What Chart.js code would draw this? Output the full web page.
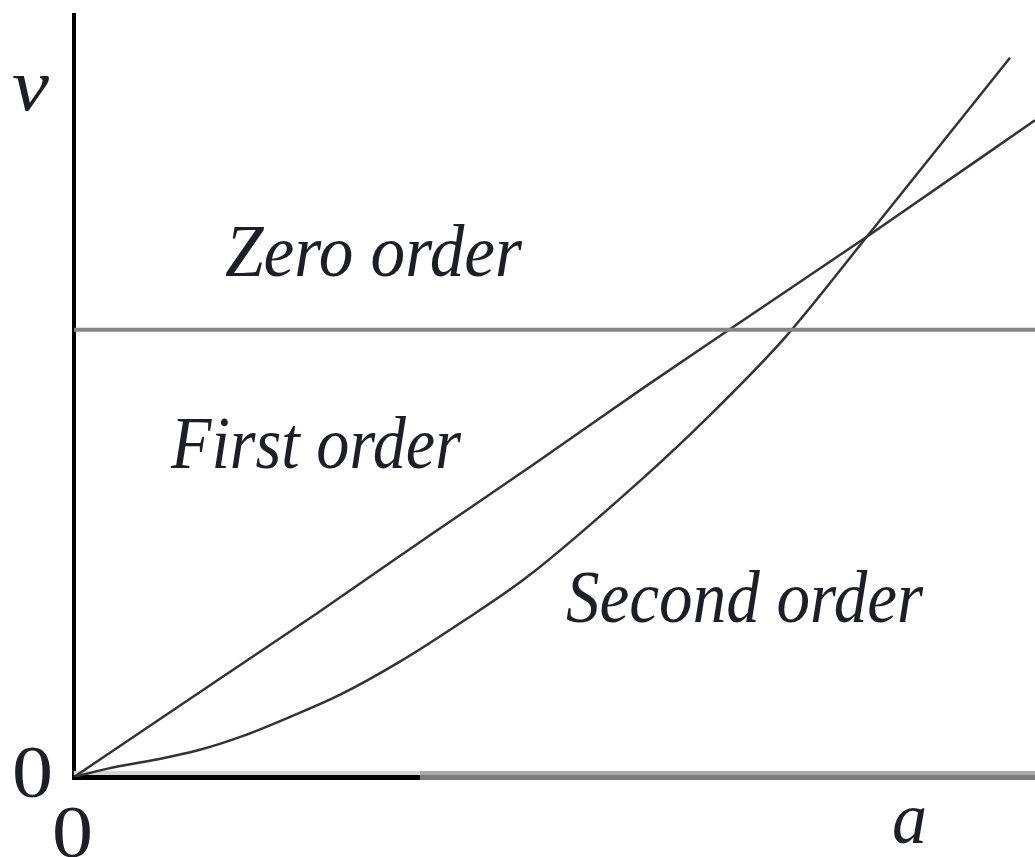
<!DOCTYPE html>
<html>
<head>
<meta charset="utf-8">
<script src="https://cdn.jsdelivr.net/npm/chart.js@4"></script>
<style>
  html, body { margin: 0; padding: 0; background: #fff; }
  #wrap { width: 1035px; height: 857px; }
</style>
</head>
<body>
<div id="wrap"><canvas id="c" width="1035" height="857"></canvas></div>
<script>
// ---- data (a = substrate, v = rate) ----
const zeroOrderA   = [0, 10];
const zeroOrderV   = [5.87, 5.87];
const firstOrderA  = [0, 1.47, 2.53, 3.70, 4.77, 5.94, 6.77, 8.25, 10];
const firstOrderV  = [0, 1.25, 2.15, 3.17, 4.09, 5.12, 5.83, 7.09, 8.62];
const secondOrderA = [0, 0.35, 0.86, 1.29, 1.76, 2.25, 2.77, 3.40, 4.02, 4.71, 5.91, 6.57, 7.40, 8.25, 9.74];
const secondOrderV = [0, 0.11, 0.23, 0.35, 0.54, 0.79, 1.08, 1.52, 2.02, 2.62, 3.91, 4.69, 5.77, 7.09, 9.44];
const curveLabels  = ['Zero order', 'First order', 'Second order'];
const axisLabels   = ['v', 'a'];
const originLabel  = '0';

const toPts = (xs, ys) => xs.map((x, i) => ({ x: x, y: ys[i] }));

// text placement (in data units: left edge, baseline) and target widths in px
const textLayout = [
  { text: curveLabels[0], a: 1.571, v: 6.575, w: 297, italic: true },
  { text: curveLabels[1], a: 1.009, v: 4.055, w: 290, italic: true },
  { text: curveLabels[2], a: 5.120, v: 2.034, w: 357, italic: true },
  { text: axisLabels[0], a: -0.645, v: 8.753, w: 37, italic: true },
  { text: axisLabels[1], a: 8.512, v: -0.866, w: 35, italic: true },
  { text: originLabel, a: -0.645, v: -0.262, w: 41, italic: false },
  { text: originLabel, a: -0.229, v: -1.050, w: 41, italic: false }
];

const decorPlugin = {
  id: 'decor',
  beforeDatasetsDraw(chart) {
    const ctx = chart.ctx, xs = chart.scales.x, ys = chart.scales.y;
    const y0 = ys.getPixelForValue(0);
    ctx.save();
    // x axis: black near origin, grey further out (as in the reference)
    ctx.lineCap = 'butt';
    ctx.lineWidth = 5;
    ctx.strokeStyle = '#000';
    ctx.beginPath();
    ctx.moveTo(xs.getPixelForValue(0) - 2, y0 + 0.5);
    ctx.lineTo(xs.getPixelForValue(3.6), y0 + 0.5);
    ctx.stroke();
    ctx.strokeStyle = '#7a7a7a';
    ctx.beginPath();
    ctx.moveTo(xs.getPixelForValue(3.6), y0 + 0.5);
    ctx.lineTo(xs.getPixelForValue(10), y0 + 0.5);
    ctx.stroke();
    ctx.lineWidth = 4;
    ctx.strokeStyle = '#d6d6d6';
    ctx.beginPath();
    ctx.moveTo(xs.getPixelForValue(0), y0 - 4);
    ctx.lineTo(xs.getPixelForValue(3.6), y0 - 4);
    ctx.stroke();
    ctx.strokeStyle = '#aaaaaa';
    ctx.beginPath();
    ctx.moveTo(xs.getPixelForValue(3.6), y0 - 4);
    ctx.lineTo(xs.getPixelForValue(10), y0 - 4);
    ctx.stroke();
    ctx.restore();
  },
  afterDraw(chart) {
    const ctx = chart.ctx, xs = chart.scales.x, ys = chart.scales.y;
    ctx.save();
    ctx.fillStyle = '#1e1e28';
    ctx.textBaseline = 'alphabetic';
    ctx.textAlign = 'left';
    textLayout.forEach(t => {
      ctx.font = (t.italic ? 'italic ' : '') + '75px "Liberation Serif", "DejaVu Serif", serif';
      const px = xs.getPixelForValue(t.a);
      const py = ys.getPixelForValue(t.v);
      const mw = ctx.measureText(t.text).width;
      const sx = t.w / mw;
      ctx.save();
      ctx.translate(px, py);
      ctx.scale(sx, 1);
      ctx.fillText(t.text, 0, 0);
      ctx.restore();
    });
    ctx.restore();
  }
};

new Chart(document.getElementById('c'), {
  type: 'line',
  data: {
    datasets: [
      { label: curveLabels[0], data: toPts(zeroOrderA, zeroOrderV), borderColor: '#858585', borderWidth: 4, pointRadius: 0, tension: 0 },
      { label: curveLabels[1], data: toPts(firstOrderA, firstOrderV), borderColor: '#333333', borderWidth: 2.5, pointRadius: 0, cubicInterpolationMode: 'monotone' },
      { label: curveLabels[2], data: toPts(secondOrderA, secondOrderV), borderColor: '#333333', borderWidth: 2.5, pointRadius: 0, cubicInterpolationMode: 'monotone' }
    ]
  },
  options: {
    responsive: false,
    animation: false,
    layout: { padding: { left: 74, right: 0, top: 15, bottom: 80 } },
    plugins: { legend: { display: false }, tooltip: { enabled: false } },
    scales: {
      x: {
        type: 'linear', min: 0, max: 10,
        ticks: { display: false },
        grid: { display: false, drawTicks: false },
        border: { display: false }
      },
      y: {
        type: 'linear', min: 0, max: 10,
        ticks: { display: false },
        grid: { display: false, drawTicks: false },
        border: { display: true, color: '#000', width: 4 }
      }
    }
  },
  plugins: [decorPlugin]
});
</script>
</body>
</html>
